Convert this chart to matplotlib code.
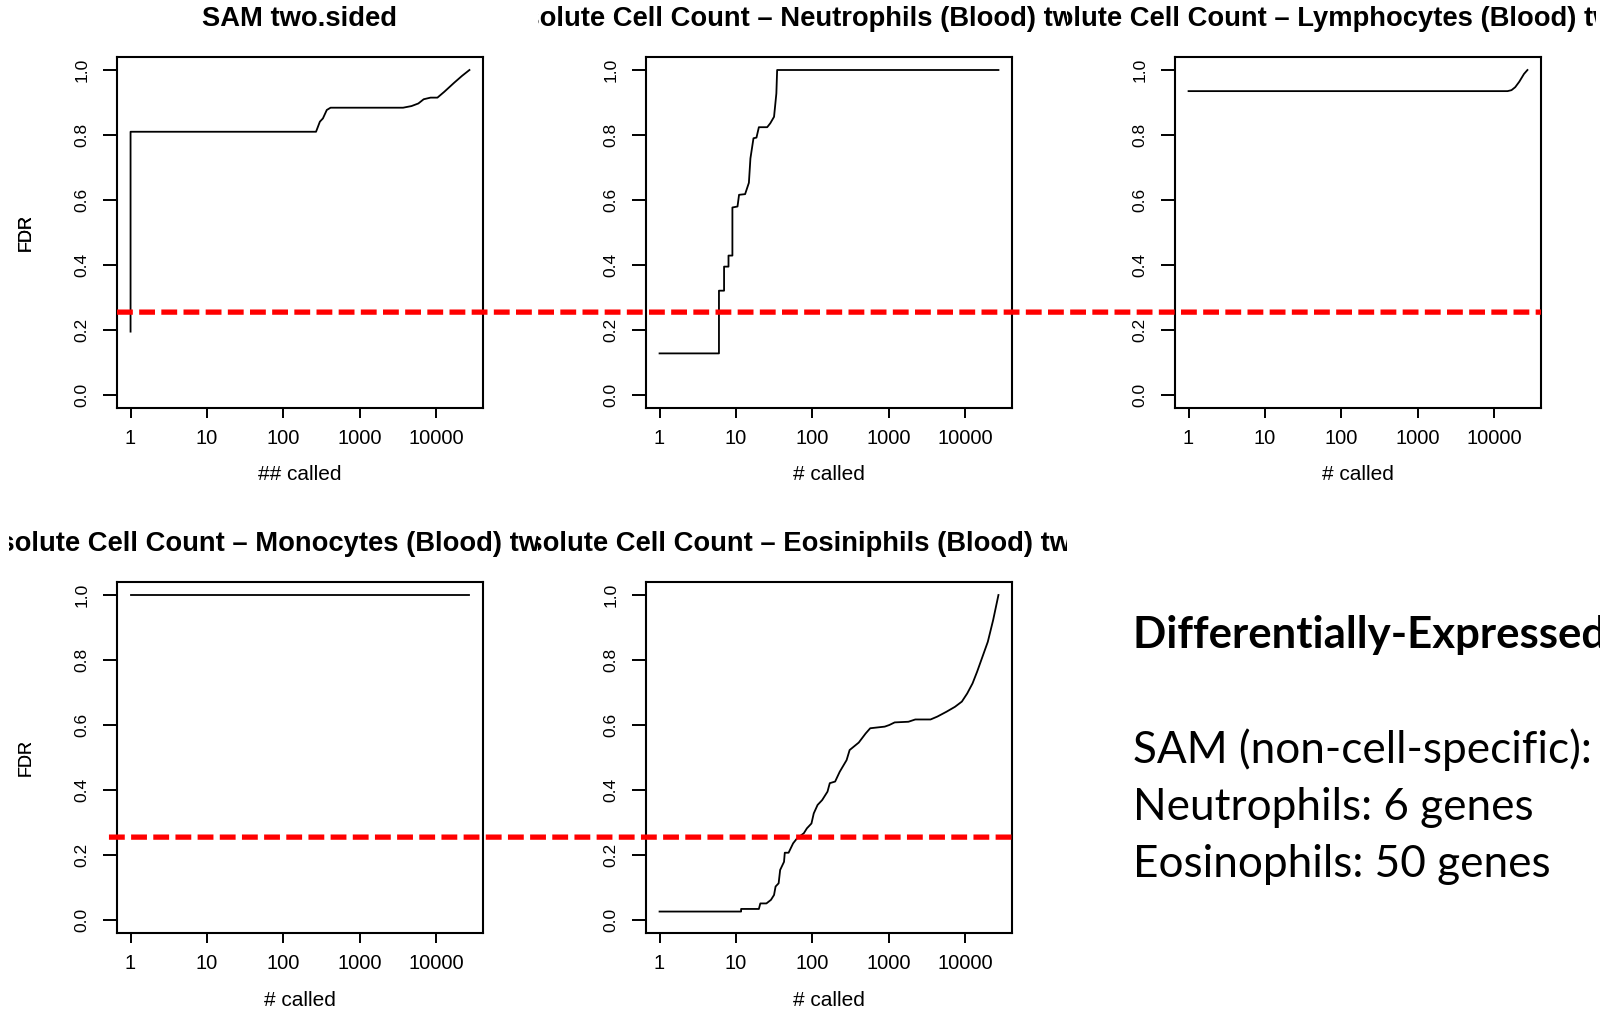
import numpy as np
import matplotlib
matplotlib.use('Agg')
import matplotlib.pyplot as plt
from matplotlib.patches import ConnectionPatch
from matplotlib.transforms import Bbox, TransformedBbox, blended_transform_factory

# FDR vs number of genes called
sam_called = [1, 1, 269, 302, 331, 372, 417, 3715, 4786, 5888, 6918, 8511, 10471, 12882, 17378, 22000, 27500]
sam_fdr = [0.195, 0.81, 0.81, 0.841, 0.851, 0.877, 0.884, 0.884, 0.889, 0.897, 0.91, 0.915, 0.915, 0.933, 0.961, 0.982, 1.0]

neu_called = [1, 6, 6, 7, 7, 8, 8, 9, 9, 10.5, 11, 13.2, 14.8, 15.5, 17, 18.6, 20, 25.7, 28.2, 31.6, 33.9, 34.7, 27500]
neu_fdr = [0.128, 0.128, 0.321, 0.321, 0.395, 0.395, 0.429, 0.429, 0.577, 0.58, 0.616, 0.618, 0.653, 0.728, 0.79,
           0.792, 0.824, 0.824, 0.836, 0.856, 0.928, 1.0, 1.0]

lym_called = [1, 15100, 17000, 19000, 21500, 24800, 27500]
lym_fdr = [0.935, 0.935, 0.938, 0.947, 0.964, 0.988, 1.0]

mono_called = [1, 27500]
mono_fdr = [1.0, 1.0]

eos_called = [1, 11.7, 11.7, 20, 20.9, 25.1, 28.8, 31.6, 33.1, 36.3, 38, 42.7, 43.7, 49, 56.2, 63.1, 77.6, 85.1,
              97.7, 104.7, 117.5, 134.9, 158.5, 169.8, 199.5, 229, 282, 309, 407, 501, 575, 891, 1023, 1202, 1820,
              2239, 3548, 4365, 5754, 7413, 9120, 10715, 12589, 14454, 16982, 19953, 23442, 27500]
eos_fdr = [0.026, 0.026, 0.034, 0.034, 0.051, 0.051, 0.062, 0.077, 0.103, 0.113, 0.154, 0.179, 0.207, 0.207, 0.236,
           0.251, 0.267, 0.282, 0.297, 0.328, 0.354, 0.369, 0.395, 0.421, 0.426, 0.456, 0.492, 0.523, 0.546, 0.574,
           0.59, 0.595, 0.6, 0.608, 0.61, 0.617, 0.617, 0.626, 0.641, 0.656, 0.672, 0.697, 0.728, 0.764, 0.81,
           0.856, 0.923, 1.0]

titles = ['SAM two.sided',
          'Absolute Cell Count \u2013 Neutrophils (Blood) two.sided',
          'Absolute Cell Count \u2013 Lymphocytes (Blood) two.sided',
          'Absolute Cell Count \u2013 Monocytes (Blood) two.sided',
          'Absolute Cell Count \u2013 Eosiniphils (Blood) two.sided']
xlabels = ['## called', '# called', '# called', '# called', '# called']
series = [(sam_called, sam_fdr), (neu_called, neu_fdr), (lym_called, lym_fdr),
          (mono_called, mono_fdr), (eos_called, eos_fdr)]

x_ticks = [1, 10, 100, 1000, 10000]
y_ticks = [0.0, 0.2, 0.4, 0.6, 0.8, 1.0]
fdr_cut = 0.255
n_max = 27500

side_head = 'Differentially-Expressed Genes'
side_lines = ['SAM (non-cell-specific):', 'Neutrophils: 6 genes', 'Eosinophils: 50 genes']

plt.rcParams['font.family'] = ['Liberation Sans', 'DejaVu Sans']

W, H = 1600, 1010
fig = plt.figure(figsize=(W / 100, H / 100), dpi=100)

# axes boxes in pixels: left, top, right, bottom
boxes = [(117, 57, 483, 408), (646, 57, 1012, 408), (1175, 57, 1541, 408),
         (117, 582, 483, 933), (646, 582, 1012, 933)]
# R figure regions (titles get clipped to these)
regions = [(9, 0, 538, 505), (538, 0, 1067, 505), (1067, 0, 1596, 505),
           (9, 505, 538, 1010), (538, 505, 1067, 1010)]

lr = np.log10(n_max)
xlim = (10 ** (-0.04 * lr), 10 ** (lr * 1.04))

axes = []
for i, (l, t, r, b) in enumerate(boxes):
    ax = fig.add_axes([l / W, (H - b) / H, (r - l) / W, (b - t) / H])
    x, y = series[i]
    ax.plot(x, y, color='black', lw=1.3)
    ax.set_xscale('log')
    ax.set_xlim(*xlim)
    ax.set_ylim(-0.04, 1.04)
    ax.set_xticks(x_ticks)
    ax.set_xticklabels([str(v) for v in x_ticks])
    ax.xaxis.set_minor_locator(matplotlib.ticker.NullLocator())
    ax.set_yticks(y_ticks)
    ax.set_yticklabels(['%.1f' % v for v in y_ticks], rotation=90, va='center')
    ax.tick_params(axis='x', length=7.5, width=1.4, pad=7.5, labelsize=14.5)
    ax.tick_params(axis='y', length=10, width=1.4, pad=10, labelsize=12.5)
    for s in ax.spines.values():
        s.set_linewidth(1.5)
    ax.set_ylabel('FDR', fontsize=13)
    ax.yaxis.set_label_coords((26 - l) / (r - l), 0.5)
    ax.yaxis.label.set_va('center')
    ax.set_xlabel(xlabels[i], fontsize=15)
    ax.xaxis.set_label_coords(0.5, -67 / (b - t))
    ax.xaxis.label.set_va('center')
    ttl = ax.set_title(titles[i], fontsize=19.7, fontweight='bold', pad=22)
    rl, rt, rr, rb = regions[i]
    clip = TransformedBbox(Bbox([[rl / W, (H - rb) / H], [rr / W, (H - rt) / H]]), fig.transFigure)
    ttl.set_clip_box(clip)
    ttl.set_clip_on(True)
    axes.append(ax)

# red FDR cut-off lines across the panels
def frac_data(ax):
    return blended_transform_factory(ax.transAxes, ax.transData)

dash = dict(arrowstyle='-', color='#ff0000', lw=3.8, linestyle=(0, (3.0, 1.2)), capstyle='butt')
top_line = ConnectionPatch(xyA=(0, fdr_cut), coordsA=frac_data(axes[0]),
                           xyB=(1, fdr_cut), coordsB=frac_data(axes[2]), **dash)
bot_line = ConnectionPatch(xyA=(-0.022, fdr_cut), coordsA=frac_data(axes[3]),
                           xyB=(1.008, fdr_cut), coordsB=frac_data(axes[4]), **dash)
fig.add_artist(top_line)
fig.add_artist(bot_line)

# slide text on the right
fig.text(1133 / W, 1 - 648 / H, side_head, family='Lato', fontweight='bold', fontsize=31.5, va='baseline')
for k, line in enumerate(side_lines):
    fig.text(1133 / W, 1 - (763 + 57 * k) / H, line, family='Lato', fontsize=31.8, va='baseline')

fig.savefig('out.png', dpi=100)
